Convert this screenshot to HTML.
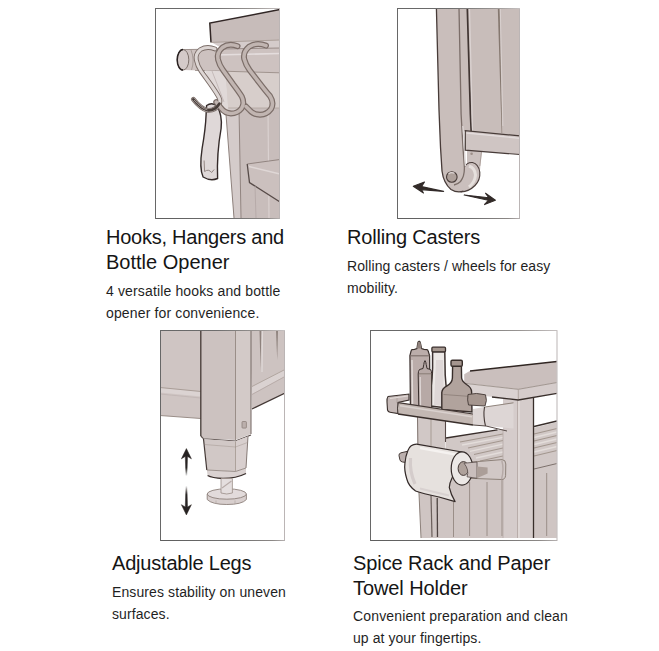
<!DOCTYPE html>
<html>
<head>
<meta charset="utf-8">
<title>Features</title>
<style>
html,body{margin:0;padding:0;background:#fff;}
body{width:659px;height:651px;position:relative;overflow:hidden;font-family:"Liberation Sans",sans-serif;color:#1c1c1c;}
h3{position:absolute;margin:0;font-weight:normal;font-size:20px;line-height:25px;white-space:nowrap;color:#151515;}
p{position:absolute;margin:0;font-size:14px;line-height:21.5px;white-space:nowrap;color:#1f1f1f;}
svg.ill{position:absolute;overflow:hidden;}
</style>
</head>
<body>

<!-- ILL1 -->
<svg class="ill" id="i1" style="left:155px;top:8px" width="125" height="211" viewBox="0 0 125 211">
<defs>
<filter id="soft" x="-5%" y="-5%" width="110%" height="110%"><feGaussianBlur stdDeviation="0.33"/></filter>
<linearGradient id="bt" x1="0" y1="0" x2="1" y2="0"><stop offset="0" stop-color="#666"/><stop offset="0.45" stop-color="#6e6e6e"/><stop offset="0.8" stop-color="#9a9694"/><stop offset="1" stop-color="#c6c1c1"/></linearGradient>
<linearGradient id="bb" x1="0" y1="0" x2="1" y2="0"><stop offset="0" stop-color="#5e5e5e"/><stop offset="0.6" stop-color="#6e6e6e"/><stop offset="0.9" stop-color="#8c8886"/><stop offset="1" stop-color="#b6b1b1"/></linearGradient>
<clipPath id="c1"><rect x="1" y="1" width="123" height="209"/></clipPath>
</defs>
<rect x="0" y="0" width="125" height="211" fill="#fff"/>
<g clip-path="url(#c1)" filter="url(#soft)">
<!-- cabinet body -->
<path d="M70 60 L79 210 L125 210 L125 60 Z" fill="#c8bdbb"/>
<path d="M70.3 96 L79 210 L86 210 L84 96 Z" fill="#d4cbca"/>
<path d="M70.5 100 L79 210" stroke="#8d807b" stroke-width="1" fill="none"/>
<path d="M84 100 L86 210" stroke="#8a7d78" stroke-width="0.9" fill="none"/>
<path d="M113 100 L114 210" stroke="#dad1d0" stroke-width="1.2" fill="none"/>
<path d="M70.5 63 L125 62 L125 100 L73 100 Z" fill="#d7cecb"/>
<path d="M73 100 L125 100" stroke="#b0a49e" stroke-width="0.8" fill="none"/>
<!-- apron under top -->
<path d="M56 34 L125 31.5 L125 42 L70 42 Z" fill="#d5cccb"/>
<!-- table top -->
<path d="M54.8 15 L125 1.5 L125 32 L56 34.4 Z" fill="#c7bcba"/>
<path d="M56 34.4 L54.8 15 L125 1.5" stroke="#302725" stroke-width="1.5" fill="none"/>
<path d="M56 34.4 L125 32" stroke="#a3978f" stroke-width="0.8" fill="none"/>
<!-- rod -->
<path d="M28 41.6 L125 40 L125 64.5 L28 62 Z" fill="#cdc2c0"/>
<path d="M28 41.6 L125 40" stroke="#8b7e79" stroke-width="0.8" fill="none"/>
<path d="M40 62.4 L125 64.8" stroke="#9a8d88" stroke-width="0.9" fill="none"/>
<path d="M60 47 L125 45.5" stroke="#e4dddd" stroke-width="1.6" fill="none"/>
<ellipse cx="28" cy="51.8" rx="5.8" ry="10.3" fill="#d4cac9" stroke="#7d716c" stroke-width="1"/>
<path d="M28 41.5 A5.8 10.3 0 0 0 28 62.1" stroke="#292220" stroke-width="1.5" fill="none"/>
<path d="M36 42 Q40 52 36.5 62" stroke="#9b8f8a" stroke-width="0.8" fill="none"/>
<path d="M50 62.5 L70.5 63.5 L73.5 104 L66 100 Z" fill="#e0d9d8"/>
<path d="M57 63 L69 94" stroke="#c2b7b5" stroke-width="0.9" fill="none"/>
<!-- shelf -->
<path d="M92.2 156 L125 151.5 L125 194 L94.5 174.6 Z" fill="#cbc0be"/>
<path d="M92.2 156 L125 151.5" stroke="#8b7e79" stroke-width="0.9" fill="none"/>
<path d="M92.2 156 L94.5 174.6 L125 194" stroke="#574b48" stroke-width="1.3" fill="none"/>
<path d="M94 158.5 L125 166" stroke="#dfd7d6" stroke-width="1.5" fill="none"/>
<path d="M100 178 L101 210" stroke="#b2a6a4" stroke-width="0.8" fill="none"/>
<!-- bottle opener -->
<path transform="translate(1.6 0.5)" d="M50 97 Q55 93.5 60 97 Q66 106 64.5 120 Q60 145 61 170 Q54 173 46.5 168.5 Q42.5 160 45.5 140 Q49 120 49.5 106 Z" fill="#dfd8d8" stroke="#342b29" stroke-width="1.4"/>
<path transform="translate(1.6 0.5)" d="M47.5 152 L48 163 Q52 160 55 164 L57.5 161" stroke="#8b7e79" stroke-width="0.9" fill="none"/>
<!-- hooks -->
<g fill="none" stroke-linecap="round" stroke-linejoin="round" stroke="#7b6d68">
<path stroke-width="4.8" d="M60 40.9 Q52 37.8 45.5 41.5 Q40 46 41.3 52 Q42.5 58 46 63 L55 75.5 Q61 84 63.8 89 Q66 93.5 64 96.5 Q60 103 52.5 102.3 Q46 101 38.3 91.3"/>
<path stroke-width="5.9" d="M82.6 38.2 Q74 34.8 67.5 39.5 Q61.5 44.5 63 51.5 Q64.5 57.5 68 62 L78 76 Q84 84 86.8 88.5 Q90 95 86.5 100.5 Q82.5 105.5 76 105.5 Q69.5 105 66 100 L61.2 94"/>
<path stroke-width="5.9" d="M111 37.6 Q101.5 33.9 94 38.8 Q87.8 44 89.2 51 Q90.8 57 94.5 62 L104.5 75 Q111 83.5 115 88 Q119.5 95 116 101 Q112 106.5 105 106.8 Q98 106.5 94.5 102 L91 98.5"/>
</g>
<g fill="none" stroke-linecap="round" stroke-linejoin="round">
<path stroke="#ddd6d4" stroke-width="3" d="M60 40.9 Q52 37.8 45.5 41.5 Q40 46 41.3 52 Q42.5 58 46 63 L55 75.5 Q61 84 63.8 89 Q66 93.5 64 96.5 Q60 103 52.5 102.3 Q46 101 38.3 91.3"/>
<path stroke="#c1b5b1" stroke-width="3.5" d="M82.6 38.2 Q74 34.8 67.5 39.5 Q61.5 44.5 63 51.5 Q64.5 57.5 68 62 L78 76 Q84 84 86.8 88.5 Q90 95 86.5 100.5 Q82.5 105.5 76 105.5 Q69.5 105 66 100 L61.2 94"/>
<path stroke="#c1b5b1" stroke-width="3.5" d="M111 37.6 Q101.5 33.9 94 38.8 Q87.8 44 89.2 51 Q90.8 57 94.5 62 L104.5 75 Q111 83.5 115 88 Q119.5 95 116 101 Q112 106.5 105 106.8 Q98 106.5 94.5 102 L91 98.5"/>
</g>
<path d="M64.5 95.5 Q60 103 52.5 102.3 Q46 101 38.3 91.3" fill="none" stroke="#463c39" stroke-width="2.6" stroke-linecap="round"/>
<path d="M52 101.8 Q46.5 100.5 39.3 92.3" fill="none" stroke="#a99d97" stroke-width="0.9" stroke-linecap="round"/>
</g>
<rect x="0" y="0" width="125" height="1" fill="url(#bt)"/><rect x="0" y="210" width="125" height="1" fill="url(#bb)"/><rect x="0" y="0" width="1" height="211" fill="#676767"/><rect x="124" y="1" width="1" height="209" fill="#bbb5b5"/>
</svg>

<!-- ILL2 -->
<svg class="ill" id="i2" style="left:397px;top:8px" width="123" height="211" viewBox="0 0 123 211">
<defs><clipPath id="c2"><rect x="1" y="1" width="121" height="209"/></clipPath></defs>
<rect x="0" y="0" width="123" height="211" fill="#fff"/>
<g clip-path="url(#c2)" filter="url(#soft)">
<!-- back panel -->
<path d="M60 0 L123 0 L123 128 L64 123 Z" fill="#c8bdba"/>
<!-- mount under rail -->
<path d="M70 140 L84.8 144 L83 162 L70 160 Z" fill="#cbc1bf"/>
<path d="M84.5 144 L82.8 158" stroke="#a3968f" stroke-width="0.8" fill="none"/>
<circle cx="74.6" cy="145.8" r="1.3" fill="#9c8f89"/>
<!-- wheel -->
<path d="M66.5 160 Q70 154 75.5 154.5 Q81.5 156 82.8 164 Q83.5 172 78 177.5 Q72 183.5 64 184 L58 178 Z" fill="#cabfbd" stroke="#473b38" stroke-width="1.1"/>
<path d="M72 158 Q78 160 78.5 167 Q78 174 72 179" stroke="#e6e0dd" stroke-width="3" fill="none"/>
<!-- leg -->
<path d="M39.4 0 L42 102 L43.5 139 L45 163 Q46.5 175 54 181.5 Q60 185 66.5 183.2 Q60 181 62 176 Q68 170 67.5 160 L66 130 L64 100 L62 0 Z" fill="#c9bebb"/>
<path d="M39.4 0 L42 102 L43.5 139 L45 163 Q46.5 175 54 181.5 Q60 185.2 66.5 183.2" stroke="#473b38" stroke-width="1.3" fill="none"/>
<path d="M62 0 L64.1 106 L66 140 L67.3 158 Q68 168 63.5 173.5 Q60.5 176.5 57 177" stroke="#7b6e69" stroke-width="1.3" fill="none"/>
<path d="M65.8 118 L66.5 125 L68.5 158" stroke="#dfd8d7" stroke-width="1.3" fill="none"/>
<!-- axle -->
<circle cx="54.8" cy="169" r="5.3" fill="#ada09a" stroke="#473b38" stroke-width="1.1"/>
<path d="M51.5 166 Q54 163.8 57.5 165.3" stroke="#dfd7d6" stroke-width="1.2" fill="none"/>
<!-- panel lines -->
<path d="M70.3 0 L73.4 106 L74.2 123" stroke="#403532" stroke-width="1.7" fill="none"/>
<path d="M100.8 0 L102.6 0 L105.2 125 L104.6 125 Z" fill="#85786f"/>
<path d="M103.3 0 L105.9 118" stroke="#dad2d1" stroke-width="0.9" fill="none"/>
<path d="M72.5 0 L75.5 123" stroke="#dbd3d2" stroke-width="1.2" fill="none"/>
<!-- rail -->
<path d="M68.3 122.6 L123 127.9 L123 146.5 L68.3 142.2 Z" fill="#cfc5c3"/>
<path d="M123 127.9 L68.3 122.6 L68.3 142.2 L123 146.5" stroke="#473b38" stroke-width="1.2" fill="none"/>
<path d="M69.5 125 L123 130.3" stroke="#e3dcdc" stroke-width="1.3" fill="none"/>
<!-- arrows -->
<path d="M16.3 178.2 L27.5 174 L24.5 178.6 L46.6 183.4 L24.3 181.6 L26.5 185 Z" fill="#322b29" stroke="#322b29" stroke-width="1.1" stroke-linejoin="round"/>
<path d="M98.4 192.2 L87.5 196.6 L91.3 192.3 L67.2 187 L91.8 189.8 L88.5 185.2 Z" fill="#322b29" stroke="#322b29" stroke-width="1.1" stroke-linejoin="round"/>
</g>
<rect x="0" y="0" width="123" height="1" fill="url(#bt)"/><rect x="0" y="210" width="123" height="1" fill="url(#bb)"/><rect x="0" y="0" width="1" height="211" fill="#676767"/><rect x="122" y="1" width="1" height="209" fill="#bbb5b5"/>
</svg>

<!-- ILL3 -->
<svg class="ill" id="i3" style="left:160px;top:330px" width="125" height="211" viewBox="0 0 125 211">
<defs><clipPath id="c3"><rect x="1" y="1" width="123" height="209"/></clipPath>
<linearGradient id="fadeU" x1="0" y1="0" x2="0" y2="1"><stop offset="0" stop-color="#272221"/><stop offset="0.7" stop-color="#272221"/><stop offset="1" stop-color="#272221" stop-opacity="0"/></linearGradient>
<linearGradient id="fadeD" x1="0" y1="1" x2="0" y2="0"><stop offset="0" stop-color="#272221"/><stop offset="0.7" stop-color="#272221"/><stop offset="1" stop-color="#272221" stop-opacity="0"/></linearGradient>
</defs>
<rect x="0" y="0" width="125" height="211" fill="#fff"/>
<g clip-path="url(#c3)" filter="url(#soft)">
<!-- left panel -->
<path d="M0 0 L41 0 L41 88.5 L0 85.5 Z" fill="#cfc5c3"/>
<path d="M0 57.5 L41 61.5 L41 66.5 L0 62.5 Z" fill="#dbd3d2"/>
<path d="M0 57.5 L41 61.5" stroke="#a99d97" stroke-width="1" fill="none"/>
<path d="M0 64 L41 68" stroke="#bfb4b2" stroke-width="0.8" fill="none"/>
<path d="M0 85.5 L41 88.5" stroke="#9a8e88" stroke-width="1.1" fill="none"/>
<!-- right panel -->
<path d="M90 0 L125 0 L125 63 L92 79 Z" fill="#cdc3c1"/>
<path d="M92 56.5 L125 39.5 L125 46 L92 64 Z" fill="#dad2d1"/>
<path d="M92 56.5 L125 39.5" stroke="#ada19b" stroke-width="0.9" fill="none"/>
<path d="M92 64.5 L125 46.5" stroke="#b5a9a6" stroke-width="0.9" fill="none"/>
<path d="M92 79 L125 63" stroke="#443936" stroke-width="1.3" fill="none"/>
<path d="M99.5 0 L101.3 0 L100.6 40 Z" fill="#8d817c"/>
<path d="M116 0 L118 0 L117.2 30 Z" fill="#8d817c"/>
<path d="M102.5 0 L102 42" stroke="#e0d9d8" stroke-width="1.2" fill="none"/>
<!-- leg side face -->
<path d="M75.5 0 L91 0 L91 104 L75.5 110 Z" fill="#d3cac8"/>
<path d="M91 0 L91 104" stroke="#7d716c" stroke-width="1.1" fill="none"/>
<!-- leg front face -->
<path d="M40.8 0 L75.5 0 L75.5 110 L43.5 108.5 L40.8 106 Z" fill="#ccc2c0"/>
<path d="M40.8 0 L40.8 106" stroke="#443936" stroke-width="1.3" fill="none"/>
<path d="M75.5 0 L75.5 110" stroke="#95898350" stroke-width="1" fill="none"/>
<path d="M75.5 0 L75.5 110" stroke="#958983" stroke-width="0.9" fill="none"/>
<path d="M40.8 106 L43.5 108.8 L75.5 111 L91 105" stroke="#564a47" stroke-width="1.1" fill="none"/>
<rect x="82" y="91.5" width="4.4" height="6.6" rx="0.8" fill="#bbafac" stroke="#857973" stroke-width="0.7"/>
<!-- inner sleeve -->
<path d="M43.5 109 L75.5 111.3 L88 106.5 L86 138 L75.5 141.5 L46.8 140 Z" fill="#d1c8c6"/>
<path d="M75.5 111.3 L88 106.5 L86 138 L75.5 141.5 Z" fill="#d8cfce"/>
<path d="M43.5 109 L46.8 140" stroke="#443936" stroke-width="1.2" fill="none"/>
<path d="M75.5 111.3 L75.5 141.5" stroke="#a3978f" stroke-width="0.8" fill="none"/>
<path d="M88 106.5 L86 138" stroke="#7d716c" stroke-width="0.9" fill="none"/>
<path d="M44.5 114.5 L75.5 117 L87.5 112.5" stroke="#95898380" stroke-width="0.8" fill="none"/>
<!-- collar -->
<path d="M46.8 140 L75.5 141.5 L86 138 L86 143.5 Q76 148.5 63 148.5 Q52 148 47.6 145.5 Z" fill="#dad2d1"/>
<path d="M46.8 140 L75.5 141.5 L86 138" stroke="#8c807a" stroke-width="0.8" fill="none"/>
<path d="M47.6 145.5 Q52 148 63 148.5 Q76 148.5 86 143.5" stroke="#392f2c" stroke-width="1.3" fill="none"/>
<!-- foot pad -->
<path d="M47.2 164 L47.2 169.5 Q52 174.5 66.8 174.5 Q82 174.5 86.4 169.5 L86.4 164 Z" fill="#d8cfce" stroke="#8c807a" stroke-width="0.9"/>
<ellipse cx="66.8" cy="164" rx="19.6" ry="5.2" fill="#e2dbdb" stroke="#8c807a" stroke-width="0.9"/>
<path d="M56 170.5 L56 174 M75 170.5 L75 174" stroke="#b2a6a3" stroke-width="0.7" fill="none"/>
<!-- stem -->
<path d="M61 148.5 L72.4 148.5 L72.4 163 Q66.8 165 61 163 Z" fill="#e4dede" stroke="#9a8e88" stroke-width="0.8"/>
<path d="M62 158 L71.5 151" stroke="#b7aba8" stroke-width="1.1" fill="none"/>
<!-- arrows -->
<path d="M26.4 118.6 L31.4 128.8 L27.5 126.4 L26.9 146 L25.9 146 L25.3 126.4 L21.4 128.8 Z" fill="url(#fadeU)" stroke="url(#fadeU)" stroke-width="0.5"/>
<path d="M26.4 184.9 L31.4 174.7 L27.5 177 L26.9 156 L25.9 156 L25.3 177 L21.4 174.7 Z" fill="url(#fadeD)" stroke="url(#fadeD)" stroke-width="0.5"/>
</g>
<rect x="0" y="0" width="125" height="1" fill="url(#bt)"/><rect x="0" y="210" width="125" height="1" fill="url(#bb)"/><rect x="0" y="0" width="1" height="211" fill="#676767"/><rect x="124" y="1" width="1" height="209" fill="#bbb5b5"/>
</svg>

<!-- ILL4 -->
<svg class="ill" id="i4" style="left:370px;top:330px" width="188" height="211" viewBox="0 0 188 211">
<defs><clipPath id="c4"><rect x="1" y="1" width="185.8" height="208"/></clipPath></defs>
<rect x="0" y="0" width="188" height="211" fill="#fff"/>
<g clip-path="url(#c4)" filter="url(#soft)">
<!-- lower cabinet panel -->
<path d="M48.4 150 L187 150 L187 208 L51 208 Z" fill="#cfc5c3"/>
<!-- slatted shelf area -->
<path d="M76 108 L133 99 L133 150 L76 150 Z" fill="#d1c8c6"/>
<path d="M163 98 L187 92 L187 150 L163 150 Z" fill="#d1c8c6"/>
<g stroke="#a3978f" stroke-width="1.1" fill="none">
<path d="M90 112 L133 104"/><path d="M98 118 L133 110.5"/><path d="M104 124.5 L133 118"/><path d="M110 131 L133 126"/>
<path d="M164 104 L187 98.5"/><path d="M164 111 L187 105.5"/><path d="M164 118 L187 112.5"/><path d="M164 126 L187 120.5"/>
</g>
<g stroke="#e3ddda" stroke-width="1.3" fill="none">
<path d="M92 115 L133 107.3"/><path d="M100 121.3 L133 114.2"/><path d="M106 128 L133 122"/>
<path d="M164 107.5 L187 102"/><path d="M164 114.5 L187 109"/><path d="M164 122 L187 116.5"/>
</g>
<path d="M76 108 L127.5 99.8" stroke="#392f2c" stroke-width="1.3" fill="none"/>
<path d="M164 96.5 L187 91" stroke="#392f2c" stroke-width="1.3" fill="none"/>
<path d="M164 139 L187 133.5" stroke="#7d716c" stroke-width="1" fill="none"/>
<!-- vertical grooves lower panel -->
<g stroke="#9a8e88" stroke-width="1" fill="none">
<path d="M61 165 L62 207" stroke="#6a5e5a" stroke-width="1.2"/><path d="M67.2 168 L67.5 207" stroke="#4d4340" stroke-width="1.3"/><path d="M83.5 172 L83.5 207"/>
<path d="M99.6 152 L99.6 206"/><path d="M117 152 L117 206"/><path d="M132 150 L132 206"/><path d="M176.7 143 L176.7 206"/>
</g>
<path d="M48.4 150 L51 208" stroke="#8c807a" stroke-width="1" fill="none"/>
<!-- left leg behind rack -->
<path d="M47.5 86 L75.5 90 L75.5 125 L47.5 125 Z" fill="#d1c8c6"/>
<path d="M47.5 86 L48 125" stroke="#7d716c" stroke-width="1" fill="none"/>
<path d="M61 88 L61 120" stroke="#a3978f" stroke-width="0.9" fill="none"/>
<path d="M75.5 90 L75.5 112" stroke="#564a47" stroke-width="1.1" fill="none"/>
<!-- right leg -->
<path d="M133 68 L163.5 66 L163.5 208 L133 208 Z" fill="#d5cccb"/>
<path d="M147.5 70 L147.5 208" stroke="#b5a9a6" stroke-width="0.9" fill="none"/>
<path d="M149 70 L149 208" stroke="#e6e0dd" stroke-width="1.2" fill="none"/>
<path d="M163.5 68 L163.5 208" stroke="#392f2c" stroke-width="1.3" fill="none"/>
<path d="M133 100 L133 208" stroke="#b5a9a6" stroke-width="0.8" fill="none"/>
<!-- table top -->
<path d="M94.2 44.2 L100.1 40.8 L187 31.4 L187 52.5 L148.3 59.3 L94.2 53.1 Z" fill="#cabfbd"/>
<path d="M95 53.4 L148.3 59.3 L148.3 69.8 L110 65.5 L95 62 Z" fill="#dad2d1"/>
<path d="M148.3 59.3 L187 52.5 L187 63.3 L148.3 69.8 Z" fill="#d5cccb"/>
<path d="M100 40.9 L187 31.5" stroke="#302724" stroke-width="1.5" fill="none"/>
<path d="M95 53.4 L148.3 59.3 L187 52.5" stroke="#9a8e88" stroke-width="0.9" fill="none"/>
<path d="M148.3 59.3 L148.3 69.8" stroke="#a3978f" stroke-width="0.8" fill="none"/>
<path d="M122 67 L148.3 70 L187 63.4" stroke="#392f2c" stroke-width="1.3" fill="none"/>
<!-- bottle 3 (clear tall) -->
<path d="M62.6 21.7 L74.8 21.7 L75.2 45 Q75.8 55 77 62 L77 78 L60.3 76 L61 58 Q62.3 48 62.6 38 Z" fill="#ece8e6" stroke="#3d3330" stroke-width="1.5"/>
<path d="M66 30 L73 30 L74 76 L64 75 Z" fill="#ded7d7"/>
<rect x="61.9" y="17.2" width="13.6" height="4.6" rx="1" fill="#a5978f" stroke="#392f2c" stroke-width="1.3"/>
<!-- bottle 1 (tall squeeze) -->
<path d="M49 11.2 Q47.7 11.6 47.6 14 L47 18.6 L44.5 19.4 L42 19.6 Q41.2 19.8 41 21.5 L39.9 25.5 L40.4 76 L60 78 L59.6 25.5 L58.3 21.5 Q58 19.8 57 19.6 L54 19.4 L51.6 18.6 L50.6 14 Q50.4 11.6 49 11.2 Z" fill="#bbadaa" stroke="#392f2c" stroke-width="1.2"/>
<path d="M47.6 13 L47 18.6 L51.6 18.6 L50.6 13 Q49 10.5 47.6 13 Z" fill="#8f817b"/>
<path d="M40.5 25.8 L59.5 25.8" stroke="#7a6d67" stroke-width="1.1" fill="none"/>
<path d="M42 30 L42.6 74" stroke="#e3dcd9" stroke-width="1.4" fill="none"/>
<!-- bottle 2 (small squeeze) -->
<path d="M55 30.6 Q54 32 53.8 34.5 L53 38.5 L49.5 39.5 Q48.2 41 48.2 44 L48.8 78 L61.7 79 L61.7 44 Q61.7 41 60.5 39.5 L57 38.5 L56.2 34.5 Q56 32 55 30.6 Z" fill="#b7a9a6" stroke="#392f2c" stroke-width="1"/>
<path d="M49 43.8 L61.5 43.8" stroke="#85786f" stroke-width="0.9" fill="none"/>
<path d="M50.2 47 L50.6 77" stroke="#dfd7d6" stroke-width="1.2" fill="none"/>
<!-- bottle 4 (dark squat) -->
<path d="M82.6 36.3 L91.4 36.3 L91.6 48 Q92 51.5 96.5 54.5 Q101.6 57.5 101.6 62 L102 82 L71.8 79.5 L71.8 62.5 Q72 58.5 77 55.8 Q82.2 53 82.4 48 Z" fill="#b1a39d" stroke="#392f2c" stroke-width="1.4"/>
<rect x="81" y="30.2" width="11.3" height="6.1" rx="1.3" fill="#a5968f" stroke="#392f2c" stroke-width="1.4"/>
<path d="M73.5 64.5 L101 66.5" stroke="#8a7c76" stroke-width="0.8" fill="none"/>
<!-- small jar -->
<path d="M98 64.5 Q97 70 98.5 75 L115 76 Q117.5 70.5 115.5 64.8 Q106 62.3 98 64.5 Z" fill="#a5968f" stroke="#443936" stroke-width="0.9"/>
<!-- rack right end -->
<path d="M103 79 L114 77 L143.5 72.8 L143.5 98.5 L116 96 L103 95 Z" fill="#ddd6d5"/>
<path d="M114.5 77 Q113 86 115.5 96" stroke="#443936" stroke-width="1.1" fill="none"/>
<path d="M115 77 L143.5 72.8" stroke="#85786f" stroke-width="0.9" fill="none"/>
<path d="M103 95 L116 96 L137 101" stroke="#564a47" stroke-width="1" fill="none"/>
<!-- rack left end -->
<path d="M18 66.5 Q16.8 68 17 72 L17.5 80 Q18 82 20 82.3 L28 83.5 L28 72.5 L39 70 L39 64 Z" fill="#c5b9b7" stroke="#392f2c" stroke-width="1.1"/>
<path d="M27 66 L27 73" stroke="#95898380" stroke-width="0.9" fill="none"/>
<path d="M20 68.5 L38 66" stroke="#e3dcd9" stroke-width="1.2" fill="none"/>
<!-- rack front rail -->
<path d="M28 72.5 Q26.5 78 28 84 L103 95 L103 84 Z" fill="#c3b8b3"/>
<path d="M28.3 72.6 L103 84" stroke="#443936" stroke-width="1.1" fill="none"/>
<path d="M28 84 L103 95" stroke="#392f2c" stroke-width="1.3" fill="none"/>
<path d="M28.3 72.6 Q26.8 78 28 84" stroke="#443936" stroke-width="1" fill="none"/>
<path d="M30 75.8 L102 86.8" stroke="#d9d1ce" stroke-width="1.5" fill="none"/>
<!-- towel holder bar -->
<path d="M95 132.6 L132 129.6 Q135.8 129.8 135.8 134 L135.6 145.5 Q135.2 149.6 131.5 149.5 L98.9 148.3 Z" fill="#d1c8c6" stroke="#85786f" stroke-width="0.9"/>
<path d="M131.8 130.5 Q134.3 139 131.6 149" stroke="#b5a9a6" stroke-width="1.4" fill="none"/>
<!-- paper towel roll -->
<path d="M29 125.6 Q28.6 123.5 31 122.8 L38 121.2 L38.5 132.8 L32.5 132 Q30.3 131.6 29.9 129.8 Z" fill="#bbafad" stroke="#443936" stroke-width="1"/>
<path d="M37.8 120.7 Q40.5 113.5 48 114.3 L92 122 L82 148 Q79.5 153 79.3 157.5 Q81 165 85.1 171.6 Q76 169 69 167 Q52 163.5 45.6 161 Q38.5 156 36.8 149 Q34 140 34.9 133.5 Q35.5 126 37.8 120.7 Z" fill="#e6e1de" stroke="#342b29" stroke-width="1.2" stroke-linejoin="round"/>
<path d="M40.5 128 Q39.5 142 45 154" stroke="#d4cccb" stroke-width="3.2" fill="none"/>
<path d="M50 118 L86 124.6" stroke="#f5f2f0" stroke-width="2.4" fill="none"/>
<path d="M50 158.5 Q66 162.5 79 165.5" stroke="#d8d1d0" stroke-width="2" fill="none"/>
<ellipse cx="92" cy="138.5" rx="10.8" ry="16.6" fill="#ece8e6" stroke="#342b29" stroke-width="1.2"/>
<ellipse cx="93.4" cy="138.5" rx="5.3" ry="6.9" fill="#aea19b" stroke="#443936" stroke-width="1"/>
<path d="M94 133.2 L107 132 L107 148.3 L97 146.8 Q99.5 140 94 133.2 Z" fill="#c9bebc" stroke="#564a47" stroke-width="0.8"/>
<path d="M106.8 136.5 L117.6 137.5 L117.6 143.4 L106.8 148.3 Z" fill="#ab9e98"/>
</g>
<rect x="0" y="0" width="187.5" height="1" fill="url(#bt)"/><rect x="0" y="210" width="187.5" height="1" fill="url(#bb)"/><rect x="0" y="0" width="1" height="211" fill="#676767"/><rect x="186.5" y="1" width="1" height="209" fill="#bbb5b5"/>
</svg>

<h3 style="left:106px;top:225px"><span style="letter-spacing:-0.24px">Hooks, Hangers and</span><br>Bottle Opener</h3>
<p style="left:106px;top:281px;letter-spacing:0.14px">4 versatile hooks and bottle<br>opener for convenience.</p>

<h3 style="left:347px;top:225px;letter-spacing:-0.17px">Rolling Casters</h3>
<p style="left:347px;top:256px;letter-spacing:0.08px">Rolling casters / wheels for easy<br>mobility.</p>

<h3 style="left:112px;top:551px;letter-spacing:-0.2px">Adjustable Legs</h3>
<p style="left:112px;top:582px;letter-spacing:0.1px">Ensures stability on uneven<br>surfaces.</p>

<h3 style="left:353px;top:551px;letter-spacing:-0.09px">Spice Rack and Paper<br>Towel Holder</h3>
<p style="left:353px;top:606px"><span style="letter-spacing:0.15px">Convenient preparation and clean</span><br><span style="letter-spacing:0.07px">up at your fingertips.</span></p>

</body>
</html>
